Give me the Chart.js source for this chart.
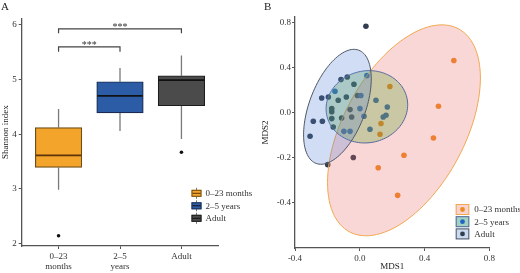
<!DOCTYPE html>
<html>
<head>
<meta charset="utf-8">
<script src="https://cdn.jsdelivr.net/npm/chart.js@4.4.1/dist/chart.umd.min.js"></script>
<style>
  html, body { margin: 0; padding: 0; background: #ffffff; }
  #wrap { position: relative; width: 520px; height: 273px; background: #ffffff; overflow: hidden; }
  #wrap canvas { position: absolute; top: 0; }
  #ca { left: 0; }
  #cb { left: 260px; }
</style>
</head>
<body>
<div id="wrap">
  <canvas id="ca" width="260" height="273"></canvas>
  <canvas id="cb" width="260" height="273"></canvas>
</div>
<script>
// ---------------- Panel A data ----------------
const groupNames = ['0–23 months', '2–5 years', 'Adult'];
const groupTickLabels = [['0–23', 'months'], ['2–5', 'years'], 'Adult'];
const groupPositions = [1, 2, 3];
const boxQ1 = [3.39, 4.39, 4.52];
const boxMedian = [3.61, 4.70, 4.99];
const boxQ3 = [4.12, 4.96, 5.07];
const whiskerLow = [2.98, 4.06, 3.91];
const whiskerHigh = [4.46, 5.21, 5.44];
const outlierX = [1, 3];
const outlierY = [2.14, 3.67];
const shannonTicks = [2, 3, 4, 5, 6];
const bracketFrom = [1, 1];
const bracketTo = [2, 3];
const bracketY = [5.60, 5.93];
const bracketDrop = [5.51, 5.85];
const bracketText = ['***', '***'];

// ---------------- Panel B data ----------------
const mds1_infant = [0.581, 0.186, 0.486, 0.131, 0.125, 0.455, 0.273, 0.114, 0.234];
const mds2_infant = [0.466, 0.235, 0.060, -0.094, -0.189, -0.222, -0.376, -0.487, -0.732];
const mds1_child = [0.044, -0.153, 0.007, 0.100, 0.001, 0.170, 0.026, 0.145, 0.162, 0.063, -0.098, -0.060];
const mds2_child = [0.332, 0.193, 0.155, 0.113, 0.039, 0.053, -0.029, -0.036, -0.020, -0.145, -0.163, -0.163];
const mds1_adult = [0.038, -0.116, -0.077, -0.036, -0.235, -0.194, -0.133, -0.083, -0.015, -0.173, -0.173, -0.060, -0.287, -0.231, -0.173, -0.112, -0.050, -0.164, -0.307, -0.040, -0.198];
const mds2_adult = [0.771, 0.297, 0.320, 0.255, 0.133, 0.142, 0.113, 0.142, 0.155, 0.039, 0.012, 0.030, -0.074, -0.074, -0.050, -0.044, -0.036, -0.124, -0.207, -0.396, -0.459];
// ellipse per group: centre and two conjugate half-axes (data units)
const ellipseCenterX = [0.273, 0.044, -0.138];
const ellipseCenterY = [-0.154, 0.055, 0.055];
const ellipseAxisUX = [0.472, 0.252, 0.209];
const ellipseAxisUY = [0.465, 0.018, 0.249];
const ellipseAxisVX = [0, 0, 0];
const ellipseAxisVY = [-0.814, -0.321, -0.446];
const mdsXTicks = [-0.4, 0, 0.4, 0.8];
const mdsXTickLabels = ['-0.4', '0.0', '0.4', '0.8'];
const mdsYTicks = [-0.8, -0.4, 0, 0.4, 0.8];
const mdsYTickLabels = ['-0.4', '-0.2', '0.0', '0.4', '0.8'];

// ---------------- styles ----------------
const FONT = '"Liberation Serif", "DejaVu Serif", serif';
const AXIS = '#555555';
const TXT = '#333333';
const boxFill = ['#f3a42a', '#2d5ca6', '#4b4b4b'];
const boxLine = ['#6f4d16', '#1b2c50', '#1c1c1c'];
const medianLine = ['#5e330b', '#111111', '#111111'];
const ptColor = ['#ee8a22', '#2166c2', '#323e4f'];
const ellFill = ['rgba(235,100,100,0.26)', 'rgba(70,160,30,0.27)', 'rgba(80,130,215,0.27)'];
const ellStroke = ['#f0a850', '#56689a', '#4d5766'];
const legKeyFill = ['#f8d3cf', '#a3d2c2', '#cbdaee'];

Chart.defaults.font.family = FONT;
Chart.defaults.color = TXT;

function fixedTicks(values) {
  return function (scale) { scale.ticks = values.map(v => ({ value: v })); };
}

// ================= Panel A =================
const boxPlugin = {
  id: 'boxExtras',
  beforeDatasetsDraw(chart) {
    const { ctx, scales: { x, y } } = chart;
    ctx.save();
    ctx.strokeStyle = '#7a7a7a';
    ctx.lineWidth = 1.3;
    groupPositions.forEach((g, i) => {
      const px = x.getPixelForValue(g);
      ctx.beginPath();
      ctx.moveTo(px, y.getPixelForValue(whiskerLow[i]));
      ctx.lineTo(px, y.getPixelForValue(boxQ1[i]));
      ctx.moveTo(px, y.getPixelForValue(boxQ3[i]));
      ctx.lineTo(px, y.getPixelForValue(whiskerHigh[i]));
      ctx.stroke();
    });
    ctx.restore();
  },
  afterDatasetsDraw(chart) {
    const { ctx, scales: { x, y } } = chart;
    const meta = chart.getDatasetMeta(0);
    ctx.save();
    groupPositions.forEach((g, i) => {
      const bar = meta.data[i];
      const py = y.getPixelForValue(boxMedian[i]);
      ctx.strokeStyle = medianLine[i];
      ctx.lineWidth = 1.8;
      ctx.beginPath();
      ctx.moveTo(bar.x - bar.width / 2 + 0.6, py);
      ctx.lineTo(bar.x + bar.width / 2 - 0.6, py);
      ctx.stroke();
    });
    ctx.strokeStyle = '#444444';
    ctx.lineWidth = 1.2;
    ctx.fillStyle = '#333333';
    ctx.font = '10px ' + FONT;
    ctx.textAlign = 'center';
    ctx.textBaseline = 'alphabetic';
    bracketFrom.forEach((f, i) => {
      const x1 = x.getPixelForValue(f), x2 = x.getPixelForValue(bracketTo[i]);
      const yb = y.getPixelForValue(bracketY[i]), yd = y.getPixelForValue(bracketDrop[i]);
      ctx.beginPath();
      ctx.moveTo(x1, yd); ctx.lineTo(x1, yb); ctx.lineTo(x2, yb); ctx.lineTo(x2, yd);
      ctx.stroke();
      ctx.fillText(bracketText[i], (x1 + x2) / 2, yb + 1.5);
    });
    const lx = 191.5, ly0 = 193.3, dy = 12.5;
    groupNames.forEach((name, i) => {
      const cy = ly0 + dy * i;
      ctx.strokeStyle = '#777777'; ctx.lineWidth = 1;
      ctx.beginPath(); ctx.moveTo(lx + 5, cy - 5.5); ctx.lineTo(lx + 5, cy + 5.5); ctx.stroke();
      ctx.fillStyle = boxFill[i];
      ctx.fillRect(lx, cy - 3.5, 10, 7);
      ctx.strokeStyle = boxLine[i];
      ctx.strokeRect(lx + 0.5, cy - 3, 9, 6);
      ctx.strokeStyle = medianLine[i];
      ctx.beginPath(); ctx.moveTo(lx + 1, cy); ctx.lineTo(lx + 9, cy); ctx.stroke();
      ctx.fillStyle = '#333333';
      ctx.font = '9px ' + FONT;
      ctx.textAlign = 'left';
      ctx.textBaseline = 'middle';
      ctx.fillText(name, lx + 14, cy + 0.5);
    });
    ctx.fillStyle = '#222222';
    ctx.font = '11px ' + FONT;
    ctx.textAlign = 'left';
    ctx.textBaseline = 'top';
    ctx.fillText('A', 1, 2);
    ctx.restore();
  }
};

new Chart(document.getElementById('ca'), {
  type: 'bar',
  data: {
    datasets: [
      {
        type: 'bar',
        data: groupPositions.map((g, i) => ({ x: g, y: [boxQ1[i], boxQ3[i]] })),
        backgroundColor: boxFill,
        borderColor: boxLine,
        borderWidth: 1.2,
        borderSkipped: false,
        barThickness: 46.5
      },
      {
        type: 'scatter',
        data: outlierX.map((g, i) => ({ x: g, y: outlierY[i] })),
        backgroundColor: '#111111',
        borderColor: '#111111',
        pointRadius: 1.8,
        pointBorderWidth: 0
      }
    ]
  },
  options: {
    responsive: false,
    animation: false,
    layout: { padding: { left: 0, top: 18.3, right: 41.7, bottom: 0 } },
    plugins: { legend: { display: false }, tooltip: { enabled: false } },
    scales: {
      x: {
        type: 'linear', min: 0.4, max: 3.6, offset: false,
        afterBuildTicks: fixedTicks(groupPositions),
        afterFit(s) { s.height = 27; },
        ticks: {
          callback: (v) => groupTickLabels[groupPositions.indexOf(v)],
          font: { size: 9, lineHeight: 1.15 }, color: TXT, padding: 2,
          maxRotation: 0, autoSkip: false
        },
        grid: { drawOnChartArea: false, drawTicks: true, tickLength: 3, color: AXIS, offset: false, lineWidth: 1 },
        border: { display: true, color: AXIS, width: 1.3 }
      },
      y: {
        type: 'linear', min: 1.952, max: 6.122,
        afterBuildTicks: fixedTicks(shannonTicks),
        afterFit(s) { s.width = 21.7; },
        ticks: { callback: (v) => String(v), font: { size: 9 }, color: TXT, padding: 2 },
        grid: { drawOnChartArea: false, drawTicks: true, tickLength: 3, color: AXIS, lineWidth: 1 },
        border: { display: true, color: AXIS, width: 1.3 },
        title: { display: true, text: 'Shannon index', font: { size: 9 }, color: '#222222', padding: { top: 0.5, bottom: 0 } }
      }
    }
  },
  plugins: [boxPlugin]
});

// ================= Panel B =================
const groupX = [mds1_infant, mds1_child, mds1_adult];
const groupY = [mds2_infant, mds2_child, mds2_adult];

const ellipsePlugin = {
  id: 'ellipses',
  afterDatasetsDraw(chart) {
    const { ctx, scales: { x, y } } = chart;
    ctx.save();
    [0, 1, 2].forEach(i => {
      ctx.beginPath();
      const n = 120;
      for (let k = 0; k <= n; k++) {
        const t = (k / n) * Math.PI * 2;
        const dx = ellipseCenterX[i] + ellipseAxisUX[i] * Math.cos(t) + ellipseAxisVX[i] * Math.sin(t);
        const dyv = ellipseCenterY[i] + ellipseAxisUY[i] * Math.cos(t) + ellipseAxisVY[i] * Math.sin(t);
        const px = x.getPixelForValue(dx), py = y.getPixelForValue(dyv);
        if (k === 0) ctx.moveTo(px, py); else ctx.lineTo(px, py);
      }
      ctx.closePath();
      ctx.fillStyle = ellFill[i];
      ctx.fill();
      ctx.strokeStyle = ellStroke[i];
      ctx.lineWidth = 1;
      ctx.stroke();
    });
    const kx = 195.7, ky0 = 209.5, kdy = 12.2;
    groupNames.forEach((name, i) => {
      const cy = ky0 + kdy * i;
      ctx.fillStyle = legKeyFill[i];
      ctx.fillRect(kx, cy - 5.5, 13.6, 11);
      ctx.strokeStyle = ellStroke[i];
      ctx.lineWidth = 1;
      ctx.strokeRect(kx + 0.5, cy - 5, 12.6, 10);
      ctx.fillStyle = ptColor[i];
      ctx.beginPath(); ctx.arc(kx + 6.8, cy, 2.4, 0, Math.PI * 2); ctx.fill();
      ctx.fillStyle = '#333333';
      ctx.font = '9px ' + FONT;
      ctx.textAlign = 'left';
      ctx.textBaseline = 'middle';
      ctx.fillText(name, kx + 18.5, cy + 0.5);
    });
    ctx.fillStyle = '#222222';
    ctx.font = '11px ' + FONT;
    ctx.textAlign = 'left';
    ctx.textBaseline = 'top';
    ctx.fillText('B', 4, 2);
    ctx.restore();
  }
};

new Chart(document.getElementById('cb'), {
  type: 'scatter',
  data: {
    datasets: groupNames.map((name, i) => ({
      label: name,
      data: groupX[i].map((v, k) => ({ x: v, y: groupY[i][k] })),
      backgroundColor: ptColor[i],
      borderColor: ptColor[i],
      pointRadius: 2.8,
      pointBorderWidth: 0
    }))
  },
  options: {
    responsive: false,
    animation: false,
    layout: { padding: { left: 0, top: 16.8, right: 30.7, bottom: 0 } },
    plugins: { legend: { display: false }, tooltip: { enabled: false } },
    scales: {
      x: {
        type: 'linear', min: -0.4, max: 0.8,
        afterBuildTicks: fixedTicks(mdsXTicks),
        afterFit(s) { s.height = 25; },
        ticks: { callback: (v) => mdsXTickLabels[mdsXTicks.indexOf(v)], font: { size: 9 }, color: TXT, padding: 2, maxRotation: 0, autoSkip: false },
        grid: { drawOnChartArea: false, drawTicks: true, tickLength: 3, color: AXIS, lineWidth: 1 },
        border: { display: true, color: AXIS, width: 1.3 },
        title: { display: true, text: 'MDS1', font: { size: 9 }, color: '#222222', padding: { top: 0, bottom: 1 } }
      },
      y: {
        type: 'linear', min: -1.2, max: 0.855,
        afterBuildTicks: fixedTicks(mdsYTicks),
        afterFit(s) { s.width = 35; },
        ticks: { callback: (v) => mdsYTickLabels[mdsYTicks.indexOf(v)], font: { size: 9 }, color: TXT, padding: 1 },
        grid: { drawOnChartArea: false, drawTicks: true, tickLength: 3, color: AXIS, lineWidth: 1 },
        border: { display: true, color: AXIS, width: 1.3 },
        title: { display: true, text: 'MDS2', font: { size: 9 }, color: '#222222', padding: { top: 0.5, bottom: 0 } }
      }
    }
  },
  plugins: [ellipsePlugin]
});
</script>
</body>
</html>
